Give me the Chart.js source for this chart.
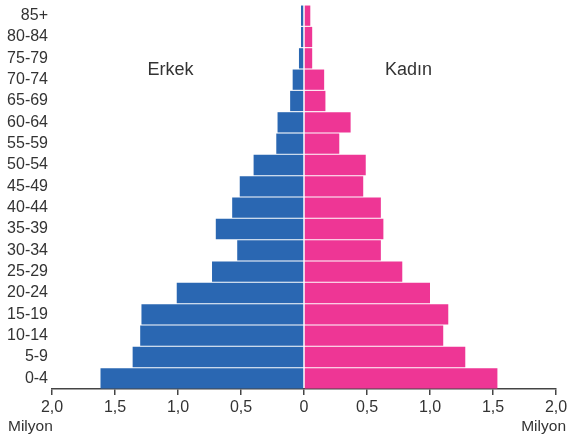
<!DOCTYPE html>
<html>
<head>
<meta charset="utf-8">
<script src="https://cdn.jsdelivr.net/npm/chart.js@4/dist/chart.umd.min.js"></script>
<style>
  html, body { margin: 0; padding: 0; background: #fff; }
  #wrap { width: 567px; height: 439px; position: relative; }
</style>
</head>
<body>
<div id="wrap"><canvas id="pyramid"></canvas></div>
<script>
// age groups, top to bottom
const ageGroups = ['85+', '80-84', '75-79', '70-74', '65-69', '60-64', '55-59', '50-54',
    '45-49', '40-44', '35-39', '30-34', '25-29', '20-24', '15-19', '10-14', '5-9', '0-4'];
// millions
const maleValues = [0.024, 0.024, 0.04, 0.09, 0.11, 0.21, 0.22, 0.40,
    0.51, 0.57, 0.70, 0.53, 0.73, 1.01, 1.29, 1.30, 1.36, 1.615];
const femaleValues = [0.05, 0.065, 0.065, 0.16, 0.17, 0.37, 0.28, 0.49,
    0.47, 0.61, 0.63, 0.61, 0.78, 1.00, 1.145, 1.105, 1.28, 1.535];
const xTicks = [-2, -1.5, -1, -0.5, 0, 0.5, 1, 1.5, 2];

const textColor = '#333';
const fontFamily = '"Liberation Sans", Arial, Helvetica, sans-serif';

// Erkek / Kadın and Milyon captions
const captions = {
    id: 'captions',
    afterDraw(chart) {
        const ctx = chart.ctx;
        const x = chart.scales.x, y = chart.scales.y;
        ctx.save();
        ctx.fillStyle = textColor;
        ctx.textBaseline = 'middle';
        ctx.textAlign = 'center';
        ctx.font = '18px ' + fontFamily;
        const yMid = (y.getPixelForValue(2) + y.getPixelForValue(3)) / 2 + 1;
        ctx.fillText('Erkek', x.getPixelForValue(-1.06), yMid);
        ctx.fillText('Kadın', x.getPixelForValue(0.83), yMid);
        ctx.font = '15.5px ' + fontFamily;
        ctx.textBaseline = 'alphabetic';
        ctx.textAlign = 'left';
        ctx.fillText('Milyon', 8, 431);
        ctx.textAlign = 'right';
        ctx.fillText('Milyon', 566, 431);
        ctx.restore();
    }
};

new Chart(document.getElementById('pyramid'), {
    type: 'bar',
    data: {
        labels: ageGroups,
        datasets: [{
            label: 'Erkek',
            data: maleValues.map(v => -v),
            backgroundColor: '#2a67b2',
            barPercentage: 0.95,
            categoryPercentage: 1
        }, {
            label: 'Kadın',
            data: femaleValues,
            backgroundColor: '#ee3695',
            barPercentage: 0.95,
            categoryPercentage: 1
        }]
    },
    options: {
        indexAxis: 'y',
        responsive: true,
        maintainAspectRatio: false,
        animation: false,
        layout: { padding: { top: 5, right: 0, left: 0, bottom: 0 } },
        plugins: {
            legend: { display: false },
            tooltip: { enabled: false }
        },
        scales: {
            x: {
                stacked: true,
                min: -2,
                max: 2,
                afterBuildTicks: scale => { scale.ticks = xTicks.map(v => ({ value: v })); },
                afterFit: scale => {
                    scale.height = 50;
                    scale.paddingRight = 11;
                },
                grid: { drawOnChartArea: false, drawTicks: true, tickLength: 6, color: '#444', lineWidth: 1.5 },
                border: { display: true, color: '#444', width: 1.5 },
                ticks: {
                    color: textColor,
                    font: { size: 16, family: fontFamily },
                    padding: 3,
                    maxRotation: 0,
                    autoSkip: false,
                    callback: v => v === 0 ? '0' : Math.abs(v).toFixed(1).replace('.', ',')
                }
            },
            y: {
                stacked: true,
                afterFit: scale => {
                    scale.width = 52;
                    scale.paddingTop = 0;
                    scale.paddingBottom = 0;
                },
                grid: { display: false, drawTicks: false },
                border: { display: false },
                ticks: {
                    color: textColor,
                    font: { size: 16, family: fontFamily },
                    padding: 4,
                    autoSkip: false
                }
            }
        }
    },
    plugins: [captions]
});
</script>
</body>
</html>
